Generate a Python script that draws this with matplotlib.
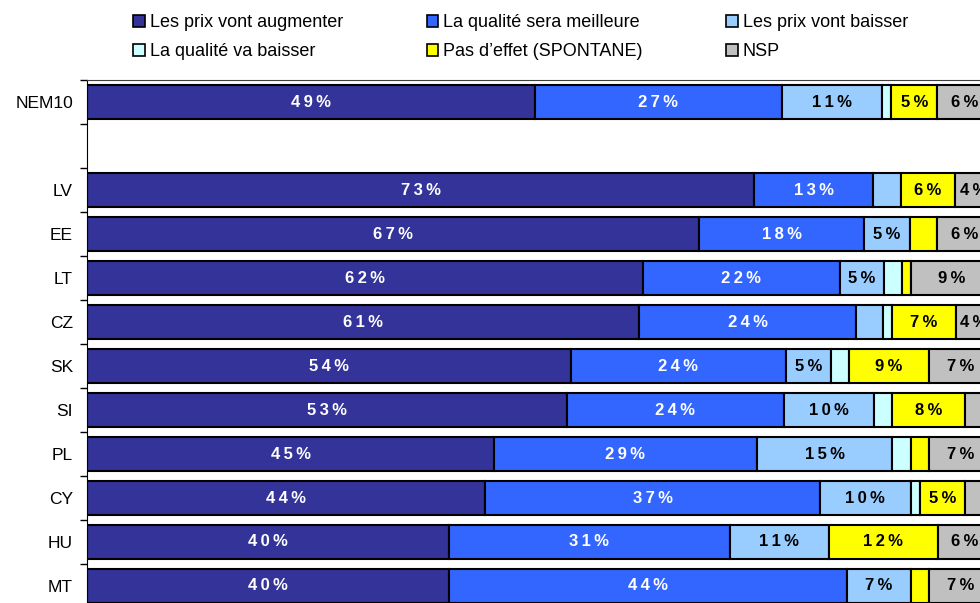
import matplotlib.pyplot as plt
import numpy as np
from matplotlib.patches import Rectangle

plt.rcParams["font.family"] = ["Liberation Sans", "DejaVu Sans"]

categories = ["NEM10", "", "LV", "EE", "LT", "CZ", "SK", "SI", "PL", "CY", "HU", "MT"]
series_names = [
    "Les prix vont augmenter",
    "La qualité sera meilleure",
    "Les prix vont baisser",
    "La qualité va baisser",
    "Pas d\u2019effet (SPONTANE)",
    "NSP",
]
colors = ["#333399", "#3366FF", "#99CCFF", "#CCFFFF", "#FFFF00", "#C0C0C0"]
text_colors = ["white", "white", "black", "black", "black", "black"]

# one list per series, in category order (blank row = None)
prix_augmenter = [49, None, 73, 67, 62, 61, 54, 53, 45, 44, 40, 40]
qualite_meilleure = [27, None, 13, 18, 22, 24, 24, 24, 29, 37, 31, 44]
prix_baisser = [11, None, 3, 5, 5, 3, 5, 10, 15, 10, 11, 7]
qualite_baisser = [1, None, 0, 0, 2, 1, 2, 2, 2, 1, 0, 0]
pas_effet = [5, None, 6, 3, 1, 7, 9, 8, 2, 5, 12, 2]
nsp = [6, None, 4, 6, 9, 4, 7, 3, 7, 3, 6, 7]
series = [prix_augmenter, qualite_meilleure, prix_baisser, qualite_baisser, pas_effet, nsp]

# bars are stretched to 100 % per row, labels keep the rounded values
totals = [sum(s[i] for s in series) if series[0][i] is not None else None
          for i in range(len(categories))]

fig = plt.figure(figsize=(9.8, 6.03), dpi=100)
ax = fig.add_axes([87 / 980, -5 / 603, 905 / 980, 528 / 603])

y = np.arange(len(categories))
left = np.zeros(len(categories))
for vals, col, tcol in zip(series, colors, text_colors):
    for i, v in enumerate(vals):
        if v is None or v == 0:
            continue
        w = v * 100 / totals[i]
        ax.barh(i, w, left=left[i], height=0.77, color=col, edgecolor="black", linewidth=1.5)
        if v >= 4:
            # spaced-out label like the original
            label = "\u2009".join(f"{v}%")
            ax.text(left[i] + w / 2, i, label, ha="center", va="center",
                    color=tcol, fontsize=12, fontweight="bold")
        left[i] += w

ax.set_xlim(0, 100)
ax.set_ylim(len(categories) - 0.5, -0.5)
ax.set_yticks(y)
ax.set_yticklabels(categories, fontsize=12.5)
ax.tick_params(axis="y", which="major", length=0, pad=10)
ax.set_yticks(np.arange(len(categories) + 1) - 0.5, minor=True)
ax.tick_params(axis="y", which="minor", length=5, width=1, direction="out")
ax.set_xticks([])
ax.spines["right"].set_visible(False)
ax.spines["bottom"].set_visible(False)
ax.spines["top"].set_color("#404040")

handles = [Rectangle((0, 0), 1, 1, facecolor=c, edgecolor="black", linewidth=1.2) for c in colors]
order = [0, 3, 1, 4, 2, 5]
fig.legend([handles[k] for k in order], [series_names[k] for k in order],
           ncol=3, loc="upper left", bbox_to_anchor=(117 / 980, 1.003), frameon=False,
           fontsize=13, handlelength=0.65, handleheight=0.65, handletextpad=0.25,
           columnspacing=4.65, labelspacing=0.65)

fig.savefig("out.png", dpi=100)
